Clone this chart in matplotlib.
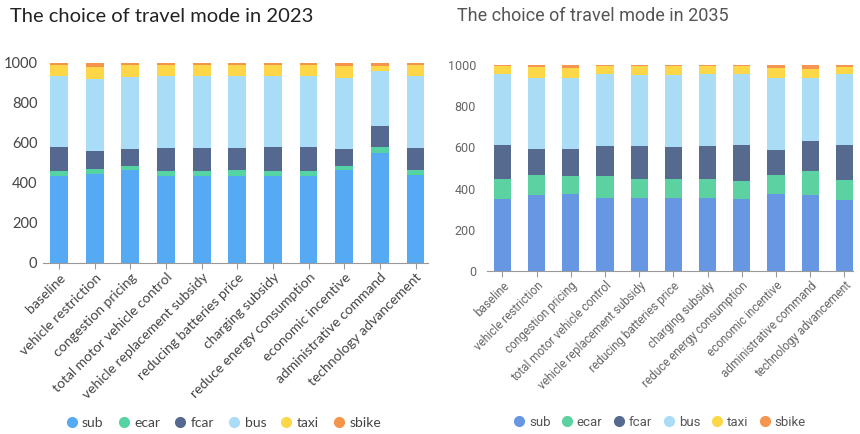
import numpy as np
import matplotlib
matplotlib.use('Agg')
import matplotlib.pyplot as plt
from matplotlib.lines import Line2D

policies = ['baseline', 'vehicle restriction', 'congestion pricing', 'total motor vehicle control',
            'vehicle replacement subsidy', 'reducing batteries price', 'charging subsidy',
            'reduce energy consumption', 'economic incentive', 'administrative command',
            'technology advancement']
modes = ['sub', 'ecar', 'fcar', 'bus', 'taxi', 'sbike']

# 2023 shares (per 1000 trips)
sub_2023 = [433, 445, 463, 437, 433, 437, 437, 437, 463, 550, 442]
ecar_2023 = [25, 25, 20, 25, 25, 26, 23, 21, 20, 28, 25]
fcar_2023 = [124, 90, 89, 113, 119, 114, 122, 120, 87, 107, 110]
bus_2023 = [351, 360, 356, 358, 356, 356, 351, 355, 355, 273, 356]
taxi_2023 = [59, 58, 60, 55, 59, 55, 55, 55, 58, 29, 59]
sbike_2023 = [8, 22, 12, 12, 8, 12, 12, 12, 17, 13, 8]

# 2035 shares (per 1000 trips)
sub_2035 = [350, 369, 374, 355, 353, 353, 353, 350, 374, 371, 347]
ecar_2035 = [97, 96, 87, 106, 94, 92, 92, 85, 91, 116, 97]
fcar_2035 = [166, 127, 129, 147, 158, 157, 163, 178, 122, 142, 169]
bus_2035 = [345, 347, 347, 347, 345, 348, 347, 342, 352, 310, 342]
taxi_2035 = [37, 53, 50, 40, 45, 45, 40, 40, 48, 40, 35]
sbike_2035 = [5, 8, 13, 5, 5, 5, 5, 5, 13, 21, 10]

colors_2023 = ['#55aaf3', '#55d3a2', '#55688f', '#a9dcf7', '#fdd748', '#f5944b']
colors_2035 = ['#6797e2', '#5cd1a1', '#566a90', '#aadcf5', '#fcd849', '#f5954f']

fig = plt.figure(figsize=(8.6, 4.34), dpi=100)


def draw(ax, series, colors, width, label_font, label_color, label_size, ypad):
    x = np.arange(len(policies))
    bottom = np.zeros(len(policies))
    for vals, c in zip(series, colors):
        ax.bar(x, vals, width, bottom=bottom, color=c, linewidth=0)
        bottom += np.array(vals)
    ax.set_ylim(0, 1000)
    ax.set_yticks([0, 200, 400, 600, 800, 1000])
    ax.set_xticks(x)
    ax.set_xticklabels(policies, rotation=45, ha='right', rotation_mode='anchor',
                       fontfamily=label_font, color=label_color, fontsize=label_size)
    for s in ['top', 'right', 'left']:
        ax.spines[s].set_visible(False)
    ax.spines['bottom'].set_color('#999999')
    ax.tick_params(axis='y', length=0, labelcolor=label_color, labelsize=label_size + 0.5, pad=ypad)
    ax.tick_params(axis='x', length=4, color='#999999', pad=2)
    for t in ax.get_yticklabels():
        t.set_fontfamily(label_font)


ax1 = fig.add_axes([43 / 860, 1 - 263 / 434, 385 / 860, 200 / 434])
draw(ax1, [sub_2023, ecar_2023, fcar_2023, bus_2023, taxi_2023, sbike_2023],
     colors_2023, 0.5, 'Lato', '#444444', 10, 4)
ax1.set_xlim(-0.45, 10.35)

ax2 = fig.add_axes([487 / 860, 1 - 271 / 434, 366 / 860, 206 / 434])
draw(ax2, [sub_2035, ecar_2035, fcar_2035, bus_2035, taxi_2035, sbike_2035],
     colors_2035, 0.5, 'Roboto', '#666666', 8.5, 8)
ax2.set_xlim(-0.45, 10.25)

fig.text(10 / 860, 1 - 17 / 434, 'The choice of travel mode in 2023', fontsize=14.5,
         color='#222222', family='Lato', va='center')
fig.text(457 / 860, 1 - 16 / 434, 'The choice of travel mode in 2035', fontsize=13,
         color='#555555', family='Roboto', va='center')

h1 = [Line2D([], [], marker='o', linestyle='', color=c, markersize=7) for c in colors_2023]
h2 = [Line2D([], [], marker='o', linestyle='', color=c, markersize=7) for c in colors_2035]
leg1 = fig.legend(h1, modes, loc='center', bbox_to_anchor=(224 / 860, 1 - 423 / 434), ncol=6,
                  frameon=False, handlelength=0.7, handletextpad=0.4, columnspacing=1.1,
                  prop={'family': 'Lato', 'size': 10})
for t in leg1.get_texts():
    t.set_color('#444444')
leg2 = fig.legend(h2, modes, loc='center', bbox_to_anchor=(660 / 860, 1 - 422 / 434), ncol=6,
                  frameon=False, handlelength=0.7, handletextpad=0.4, columnspacing=0.9,
                  prop={'family': 'Roboto', 'size': 9.5})
for t in leg2.get_texts():
    t.set_color('#555555')

fig.savefig('out.png', dpi=100)
